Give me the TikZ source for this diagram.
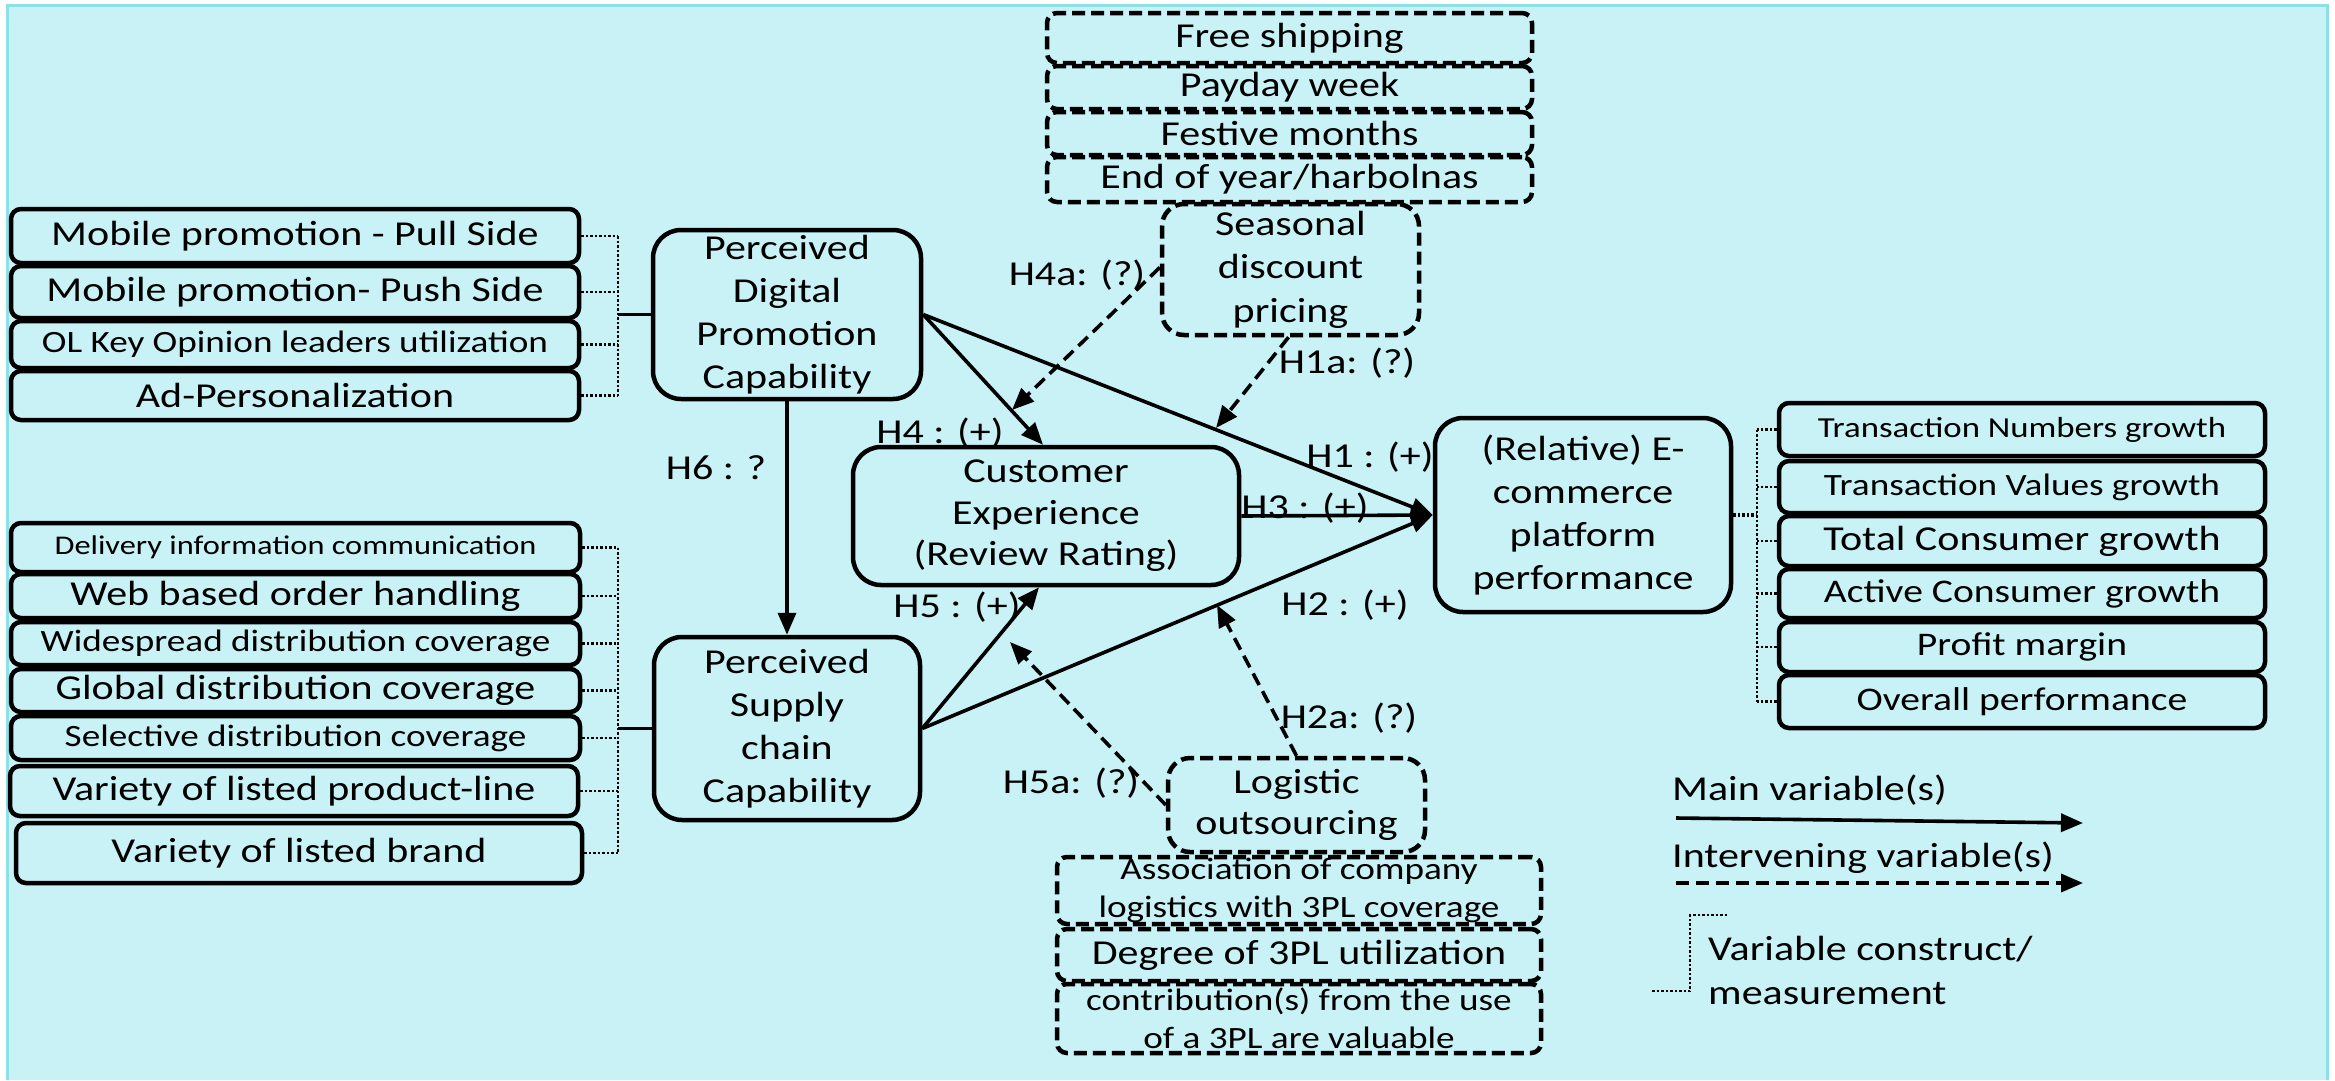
\documentclass[tikz,border=0pt]{standalone}
\usepackage{fontspec}
\setmainfont{Carlito}[FakeStretch=1.2]
\usetikzlibrary{arrows.meta}
\definecolor{bgc}{RGB}{200,242,245}
\definecolor{bgb}{RGB}{140,224,230}
\begin{document}
\begin{tikzpicture}[x=1pt,y=-1pt,
  box/.style={draw, line width=4.5pt, rounded corners=10pt, inner sep=0pt, align=center, font=\fontsize{35}{42}\selectfont},
  big/.style={box, rounded corners=28pt},
  dbox/.style={box, dash pattern=on 13pt off 6pt},
  lbl/.style={inner sep=0pt, font=\fontsize{35}{42}\selectfont},
  arr/.style={line width=3.6pt, -{Triangle[length=22pt,width=18pt]}},
  darr/.style={arr, dash pattern=on 13pt off 7pt},
  dotln/.style={line width=2.5pt, dash pattern=on 2.5pt off 2pt},
]
\useasboundingbox (0,0) rectangle (2335,1080);
\fill[bgc] (7,5) rectangle (2327,1080);
\draw[bgb, line width=3pt] (7,1080) -- (7,5) -- (2327,5) -- (2327,1080);

% left top group
\node[box, minimum width=568pt, minimum height=54pt] (lt1) at (295,236) {Mobile promotion - Pull Side};
\node[box, minimum width=568pt, minimum height=52pt] (lt2) at (295,292) {Mobile promotion- Push Side};
\node[box, minimum width=568pt, minimum height=47pt, font=\fontsize{31}{37}\selectfont] (lt3) at (295,344.5) {OL Key Opinion leaders utilization};
\node[box, minimum width=568pt, minimum height=49pt] (lt4) at (295,395.5) {Ad-Personalization};

% main boxes
\node[big, minimum width=268pt, minimum height=169pt, font=\fontsize{35}{43}\selectfont] (dig) at (787,314.5) {Perceived\\Digital\\Promotion\\Capability};
\node[big, minimum width=386pt, minimum height=138pt, font=\fontsize{35}{41.5}\selectfont] (cus) at (1046,516) {Customer\\Experience\\(Review Rating)};
\node[big, minimum width=296pt, minimum height=194pt, font=\fontsize{35}{43}\selectfont] (eco) at (1583,515) {(Relative) E-\\commerce\\platform\\performance};
\node[big, minimum width=266pt, minimum height=183pt, font=\fontsize{35}{43}\selectfont] (sup) at (787,728.5) {Perceived\\Supply\\chain\\Capability};

% seasonal
\node[dbox, rounded corners=22pt, minimum width=257pt, minimum height=131pt, font=\fontsize{35}{43.5}\selectfont] (sea) at (1290.5,269.5) {Seasonal\\discount\\pricing};
\node[dbox, minimum width=485pt, minimum height=50pt] (t1) at (1289.5,38) {Free shipping};
\node[dbox, minimum width=485pt, minimum height=43pt] (t2) at (1289.5,87.5) {Payday week};
\node[dbox, minimum width=485pt, minimum height=43pt] (t3) at (1289.5,133.5) {Festive months};
\node[dbox, minimum width=485pt, minimum height=45pt] (t4) at (1289.5,179.5) {End of year/harbolnas};

% left bottom group
\node[box, minimum width=569pt, minimum height=49pt, font=\fontsize{27}{32}\selectfont] (lb1) at (295.5,547.5) {Delivery information communication};
\node[box, minimum width=569pt, minimum height=44pt] (lb2) at (295.5,596) {Web based order handling};
\node[box, minimum width=569pt, minimum height=43pt, font=\fontsize{31}{37}\selectfont] (lb3) at (295.5,643.5) {Widespread distribution coverage};
\node[box, minimum width=569pt, minimum height=43pt] (lb4) at (295.5,690.5) {Global distribution coverage};
\node[box, minimum width=569pt, minimum height=44pt, font=\fontsize{31}{37}\selectfont] (lb5) at (295.5,738) {Selective distribution coverage};
\node[box, minimum width=568pt, minimum height=50pt] (lb6) at (294,791) {Variety of listed product-line};
\node[box, minimum width=566pt, minimum height=60pt] (lb7) at (299,853) {Variety of listed brand};

% right group
\node[box, minimum width=486pt, minimum height=53pt, font=\fontsize{29}{35}\selectfont] (r1) at (2022,429.5) {Transaction Numbers growth};
\node[box, minimum width=486pt, minimum height=52pt, font=\fontsize{31}{37}\selectfont] (r2) at (2022,487) {Transaction Values growth};
\node[box, minimum width=486pt, minimum height=50pt] (r3) at (2022,541) {Total Consumer growth};
\node[box, minimum width=486pt, minimum height=49pt, font=\fontsize{33}{40}\selectfont] (r4) at (2022,593.5) {Active Consumer growth};
\node[box, minimum width=486pt, minimum height=50pt, font=\fontsize{33}{40}\selectfont] (r5) at (2022,647) {Profit margin};
\node[box, minimum width=486pt, minimum height=53pt, font=\fontsize{33}{40}\selectfont] (r6) at (2022,701.5) {Overall performance};

% logistic
\node[dbox, rounded corners=22pt, minimum width=257pt, minimum height=94pt, font=\fontsize{35}{41}\selectfont] (lgs) at (1296.5,805) {Logistic\\outsourcing};
\node[dbox, minimum width=484pt, minimum height=67pt, font=\fontsize{31}{38}\selectfont] (p1) at (1299,890.5) {Association of company\\logistics with 3PL coverage};
\node[dbox, minimum width=484pt, minimum height=52pt] (p2) at (1299,955) {Degree of 3PL utilization};
\node[dbox, minimum width=484pt, minimum height=69pt, font=\fontsize{31}{38}\selectfont] (p3) at (1299,1018.5) {contribution(s) from the use\\of a 3PL are valuable};

% dotted measurement connectors
\coordinate (lta) at (618,316);
\foreach \n in {lt1,lt2,lt3,lt4} \draw[dotln] (\n.east) -- (\n.east -| lta);
\draw[dotln] (lt1.east -| lta) -- (lt4.east -| lta);
\draw[line width=3pt] (lta |- dig.west) -- (dig.west);

\coordinate (lba) at (618,728);
\foreach \n in {lb1,lb2,lb3,lb4,lb5,lb6,lb7} \draw[dotln] (\n.east) -- (\n.east -| lba);
\draw[dotln] (lb1.east -| lba) -- (lb7.east -| lba);
\draw[line width=3pt] (lba |- sup.west) -- (sup.west);

\coordinate (ra) at (1757,515);
\draw[dotln, line width=3.5pt] (eco.east) -- (eco.east -| ra);
\foreach \n in {r1,r2,r3,r4,r5,r6} \draw[dotln] (\n.west) -- (\n.west -| ra);
\draw[dotln] (r1.west -| ra) -- (r6.west -| ra);

% main arrows
\draw[arr] (dig.east) -- (eco.west);
\draw[arr] (dig.east) -- ([xshift=-3pt]cus.north);
\draw[arr] (cus.east) -- (eco.west);
\draw[arr] (sup.east) -- (eco.west);
\draw[arr] (sup.east) -- ([xshift=-7pt]cus.south);
\draw[arr] (dig.south) -- (sup.north);

% intervening arrows
\coordinate (h4a) at (1012,410);
\coordinate (h1a) at (1216,428);
\coordinate (h5a) at (1010,642);
\coordinate (h2a) at (1217,605);
\draw[darr] ([yshift=2pt]sea.west) -- (h4a);
\draw[darr] ([xshift=-2pt]sea.south) -- (h1a);
\draw[darr] (lgs.west) -- (h5a);
\draw[darr] (lgs.north) -- (h2a);

% labels
\node[lbl] (lh4a) at (1077,275) {H4a: (?)};
\node[lbl] (lh1a) at (1347,363) {H1a: (?)};
\node[lbl] (lh4) at (940,433) {H4 : (+)};
\node[lbl] (lh6) at (716,468) {H6 : ?};
\node[lbl] (lh3) at (1305,508) {H3 : (+)};
\node[lbl] (lh1) at (1370,457) {H1 : (+)};
\node[lbl] (lh5) at (957,607) {H5 : (+)};
\node[lbl] (lh2) at (1345,605) {H2 : (+)};
\node[lbl] (lh2a) at (1349,718) {H2a: (?)};
\node[lbl] (lh5a) at (1071,783) {H5a: (?)};

% legend
\node[lbl, anchor=west] (lg1) at (1672,790) {Main variable(s)};
\coordinate (la1) at (1676,818);
\coordinate (la2) at (2083,823);
\draw[arr] (la1) -- (la2);
\node[lbl, anchor=west] (lg2) at (1672,858) {Intervening variable(s)};
\coordinate (ld1) at (1676,883);
\coordinate (ld2) at (2083,883);
\draw[darr] (ld1) -- (ld2);
\coordinate (lp1) at (1652,991);
\coordinate (lp2) at (1728,915);
\draw[dotln] (lp1) -- (1690,991) -- (1690,915) -- (lp2);
\node[lbl, anchor=west, align=left, font=\fontsize{35}{44}\selectfont] (lg3) at (1708,970) {Variable construct/\\measurement};
\end{tikzpicture}
\end{document}
